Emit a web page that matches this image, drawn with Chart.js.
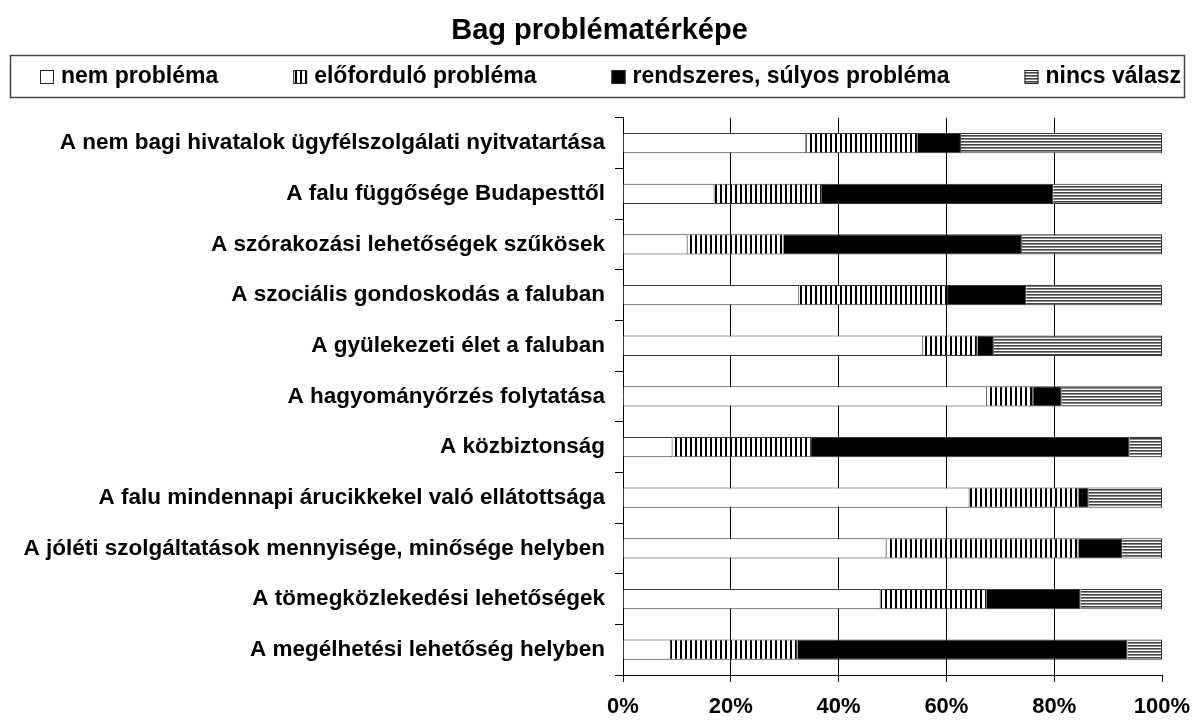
<!DOCTYPE html>
<html><head><meta charset="utf-8">
<script src="https://cdn.jsdelivr.net/npm/chart.js@4.4.0/dist/chart.umd.min.js"></script>
<style>html,body{margin:0;padding:0;background:#fff;} #wrap{width:1195px;height:720px;}</style>
</head><body><div id="wrap"><canvas id="c" width="1195" height="720"></canvas></div>
<script>
const categories = [
  'A nem bagi hivatalok ügyfélszolgálati nyitvatartása',
  'A falu függősége Budapesttől',
  'A szórakozási lehetőségek szűkösek',
  'A szociális gondoskodás a faluban',
  'A gyülekezeti élet a faluban',
  'A hagyományőrzés folytatása',
  'A közbiztonság',
  'A falu mindennapi árucikkekel való ellátottsága',
  'A jóléti szolgáltatások mennyisége, minősége helyben',
  'A tömegközlekedési lehetőségek',
  'A megélhetési lehetőség helyben'
];
const nemProblema    = [34.0, 17.0, 12.0, 32.7, 55.7, 67.5,  9.2, 64.3, 48.9, 47.8,  8.9];
const eloforduloProb = [20.7, 19.9, 17.8, 27.6, 10.1,  8.6, 25.7, 20.2, 35.6, 19.7, 23.5];
const rendszeresProb = [ 8.0, 42.9, 44.2, 14.5,  3.0,  5.3, 59.1,  1.9,  8.1, 17.4, 61.2];
const nincsValasz    = [37.3, 20.2, 26.0, 25.2, 31.2, 18.6,  6.0, 13.6,  7.4, 15.1,  6.4];
const seriesNames = ['nem probléma', 'előforduló probléma', 'rendszeres, súlyos probléma', 'nincs válasz'];
const tickLabels = ['0%', '20%', '40%', '60%', '80%', '100%'];
const chartTitle = 'Bag problématérképe';

function makePattern(kind) {
  const p = document.createElement('canvas');
  const g = p.getContext('2d');
  if (kind === 'vert') {
    p.width = 5; p.height = 1;
    g.fillStyle = '#fff'; g.fillRect(0, 0, 5, 1);
    g.fillStyle = '#000'; g.fillRect(0, 0, 2, 1);
  } else {
    p.width = 1; p.height = 3;
    g.fillStyle = '#fff'; g.fillRect(0, 0, 1, 3);
    g.fillStyle = '#444'; g.fillRect(0, 0, 1, 1);
    g.fillStyle = '#888'; g.fillRect(0, 1, 1, 1);
  }
  return document.createElement('canvas').getContext('2d').createPattern(p, 'repeat');
}

const FONT = '"Liberation Sans", Arial, sans-serif';
Chart.defaults.font.family = FONT;
Chart.defaults.font.weight = 'bold';
Chart.defaults.color = '#000';

const fills = ['#ffffff', makePattern('vert'), '#000000', makePattern('horiz')];
const values = [nemProblema, eloforduloProb, rendszeresProb, nincsValasz];

// legend drawn in the space reserved below the title, with a frame round it
const boxedLegend = {
  id: 'boxedLegend',
  afterDraw(chart) {
    const ctx = chart.ctx;
    const top = 55, bottom = 97, cy = (top + bottom) / 2 + 1;
    ctx.save();
    ctx.strokeStyle = '#444';
    ctx.lineWidth = 1.5;
    ctx.strokeRect(10.5, top + 0.5, chart.width - 21, bottom - top);
    ctx.font = 'bold 23px ' + FONT;
    ctx.textBaseline = 'middle';
    ctx.fillStyle = '#000';
    const box = 14, gapText = 7;
    const widths = chart.data.datasets.map(d => box + gapText + ctx.measureText(d.label).width);
    const left = 40, right = chart.width - 14;
    const sum = widths.reduce((a, b) => a + b, 0);
    const gap = (right - left - sum) / (widths.length - 1);
    let x = left;
    chart.data.datasets.forEach((d, i) => {
      ctx.fillStyle = d.backgroundColor;
      ctx.fillRect(x, cy - box / 2, box, box);
      ctx.strokeStyle = '#222';
      ctx.lineWidth = 1;
      ctx.strokeRect(x + 0.5, cy - box / 2 + 0.5, box - 1, box - 1);
      ctx.fillStyle = '#000';
      ctx.fillText(d.label, x + box + gapText, cy);
      x += widths[i] + gap;
    });
    ctx.restore();
  }
};

new Chart(document.getElementById('c'), {
  type: 'bar',
  data: {
    labels: categories,
    datasets: seriesNames.map((n, i) => ({
      label: n,
      data: values[i],
      backgroundColor: fills[i],
      borderColor: '#333',
      borderWidth: 1,
      barPercentage: 0.4,
      categoryPercentage: 1.0
    }))
  },
  options: {
    indexAxis: 'y',
    responsive: false,
    animation: false,
    devicePixelRatio: 1,
    layout: { padding: { left: 4, right: 0, top: 0, bottom: 0 } },
    plugins: {
      title: {
        display: true, text: chartTitle, color: '#000',
        font: { size: 29, weight: 'bold' },
        padding: { top: 14, bottom: 69 }
      },
      legend: { display: false },
      tooltip: { enabled: false }
    },
    scales: {
      x: {
        stacked: true, min: 0, max: 100,
        ticks: {
          stepSize: 20, padding: 12,
          font: { size: 22, weight: 'bold' }, color: '#000',
          callback: (v, i) => tickLabels[i]
        },
        grid: {
          color: ctx => (ctx.tick && (ctx.tick.value === 0 || ctx.tick.value === 100)) ? 'rgba(0,0,0,0)' : '#000',
          tickColor: '#000', tickLength: 7, lineWidth: 1
        },
        border: { color: '#000', width: 1 },
        afterFit: s => { s.height = 45; s.paddingRight = 33; s.paddingLeft = 0; }
      },
      y: {
        stacked: true,
        ticks: { font: { size: 22.5, weight: 'bold' }, color: '#000', padding: 10 },
        grid: { drawOnChartArea: false, offset: true, tickLength: 8, color: '#000' },
        border: { color: '#000', width: 1 },
        afterFit: s => { s.width = 619; }
      }
    }
  },
  plugins: [boxedLegend]
});
</script></body></html>
